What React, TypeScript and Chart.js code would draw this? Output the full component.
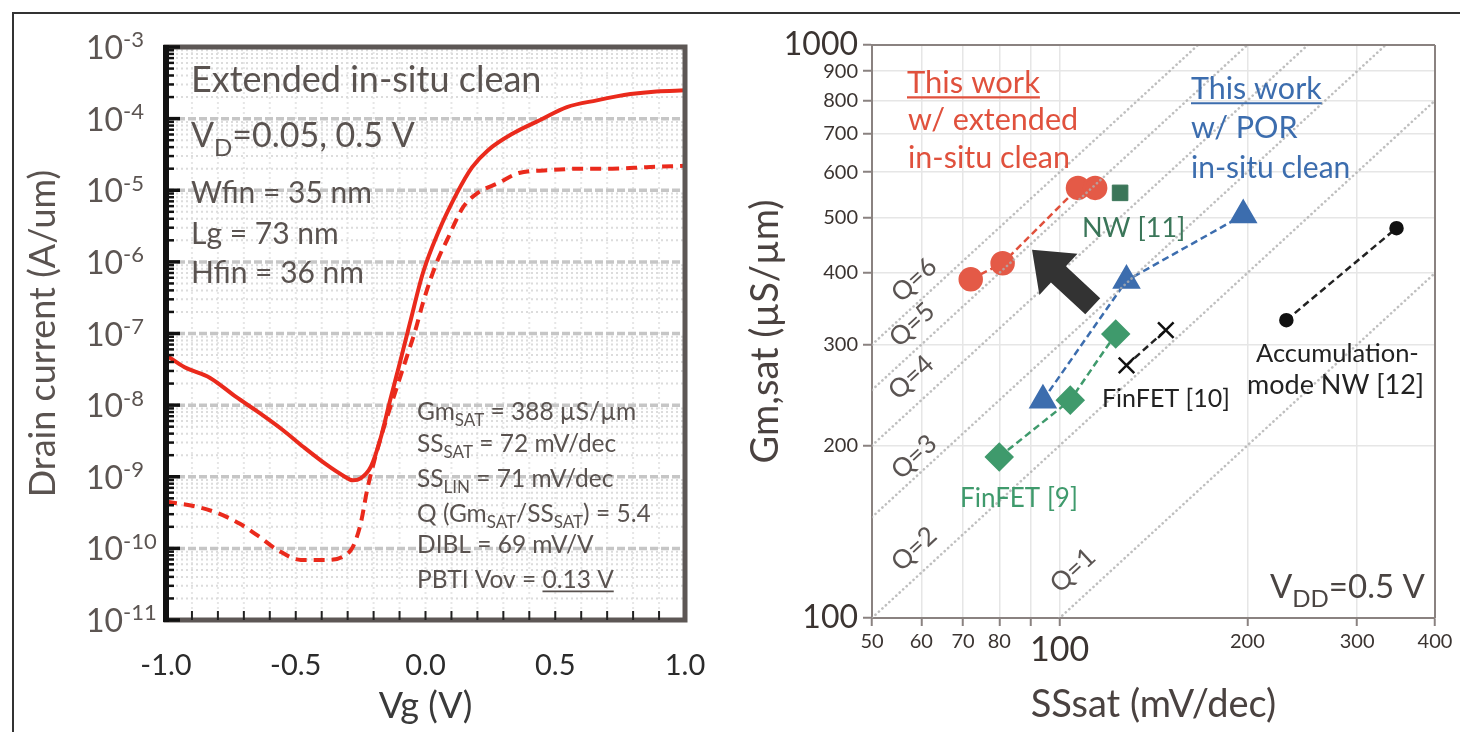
import React, { useEffect, useRef } from "react";
import { Chart, registerables } from "chart.js";
Chart.register(...registerables);

const FONT = "Lato, 'Noto Sans', sans-serif";

// ---------- Left chart data (Id–Vg) ----------
const vgSat = [-1.0, -0.93, -0.83, -0.73, -0.64, -0.55, -0.47, -0.38, -0.32, -0.28, -0.25, -0.21, -0.175, -0.137, -0.098, -0.06, -0.01, 0.048, 0.121, 0.18, 0.24, 0.34, 0.44, 0.545, 0.66, 0.79, 0.89, 1.0];
const idSat = [5.0e-8, 3.4e-8, 2.4e-8, 1.3e-8, 7.8e-9, 4.5e-9, 2.6e-9, 1.46e-9, 1.05e-9, 8.9e-10, 9.5e-10, 1.4e-9, 3.26e-9, 1.14e-8, 4.0e-8, 1.4e-7, 7.0e-7, 2.53e-6, 9.1e-6, 2.1e-5, 3.6e-5, 6.3e-5, 9.5e-5, 1.45e-4, 1.8e-4, 2.2e-4, 2.4e-4, 2.48e-4];
const vgLin = [-1.0, -0.88, -0.8, -0.715, -0.64, -0.57, -0.48, -0.38, -0.32, -0.28, -0.25, -0.225, -0.19, -0.148, -0.11, -0.075, -0.04, -0.01, 0.021, 0.052, 0.083, 0.145, 0.2, 0.28, 0.36, 0.47, 0.6, 0.72, 0.85, 1.0];
const idLin = [4.5e-10, 3.8e-10, 3.1e-10, 2.2e-10, 1.45e-10, 9.5e-11, 6.9e-11, 6.9e-11, 7.6e-11, 1.05e-10, 2.2e-10, 6.5e-10, 2.1e-9, 6.8e-9, 1.79e-8, 4.4e-8, 1.08e-7, 2.67e-7, 5.96e-7, 1.17e-6, 2.02e-6, 5.8e-6, 9.1e-6, 1.26e-5, 1.74e-5, 1.9e-5, 2.0e-5, 2.0e-5, 2.1e-5, 2.2e-5];
const leftYExponents = [-11, -10, -9, -8, -7, -6, -5, -4, -3];
const leftXLabels = [-1.0, -0.5, 0.0, 0.5, 1.0];

// ---------- Right chart data (Gm vs SS) ----------
const redSS = [72, 81, 107, 114];
const redGm = [390, 416, 563, 563];
const blueSS = [94, 128, 197];
const blueGm = [240, 388, 505];
const greenSS = [80, 104, 123];
const greenGm = [191, 240, 313];
const nwSS = [125];
const nwGm = [552];
const fin10SS = [128, 148];
const fin10Gm = [276, 318];
const accSS = [231, 347];
const accGm = [331, 479];
const qValues = [1, 2, 3, 4, 5, 6];
const rightXTicks = [50, 60, 70, 80, 90, 100, 200, 300, 400];
const rightYTicks = [100, 200, 300, 400, 500, 600, 700, 800, 900, 1000];

type Part = { t: string; sub?: boolean; sup?: boolean; u?: boolean };

function drawRich(ctx: CanvasRenderingContext2D, x: number, y: number, parts: Part[], size: number, color: string, subSize?: number) {
  ctx.save();
  ctx.fillStyle = color;
  ctx.strokeStyle = color;
  ctx.textBaseline = "alphabetic";
  ctx.textAlign = "left";
  let cx = x;
  for (const p of parts) {
    const s = p.sub || p.sup ? subSize || Math.round(size * 0.72) : size;
    ctx.font = `${s}px ${FONT}`;
    const dy = p.sub ? size * 0.26 : p.sup ? -size * 0.36 : 0;
    ctx.fillText(p.t, cx, y + dy);
    const w = ctx.measureText(p.t).width;
    if (p.u) {
      ctx.lineWidth = Math.max(1.5, size / 14);
      ctx.beginPath();
      ctx.moveTo(cx, y + size * 0.14);
      ctx.lineTo(cx + w, y + size * 0.14);
      ctx.stroke();
    }
    cx += w;
  }
  ctx.restore();
}

function line(ctx: CanvasRenderingContext2D, x1: number, y1: number, x2: number, y2: number) {
  ctx.beginPath();
  ctx.moveTo(x1, y1);
  ctx.lineTo(x2, y2);
  ctx.stroke();
}

const LEFT_TEXT = "#5a5350";

const leftDecor = {
  id: "leftDecor",
  beforeDatasetsDraw(chart: any) {
    const { ctx, chartArea: a, scales } = chart;
    const x = scales.x, y = scales.y;
    ctx.save();
    ctx.beginPath();
    ctx.rect(a.left, a.top, a.right - a.left, a.bottom - a.top);
    ctx.clip();
    ctx.strokeStyle = "#e6e6e6";
    ctx.lineWidth = 2;
    ctx.setLineDash([2, 3]);
    for (let i = -9; i <= 9; i++) {
      const px = x.getPixelForValue(i / 10);
      line(ctx, px, a.top, px, a.bottom);
    }
    ctx.strokeStyle = "#dcdcdc";
    for (const e of leftYExponents) {
      for (let m = 2; m <= 9; m++) {
        const v = m * Math.pow(10, e);
        if (v >= 1e-3) continue;
        const py = y.getPixelForValue(v);
        line(ctx, a.left, py, a.right, py);
      }
    }
    ctx.strokeStyle = "#c6c6c6";
    ctx.lineWidth = 3.5;
    ctx.setLineDash([8, 3]);
    for (const e of leftYExponents) {
      const py = y.getPixelForValue(Math.pow(10, e));
      line(ctx, a.left, py, a.right, py);
    }
    ctx.restore();
  },
  afterDatasetsDraw(chart: any) {
    const { ctx, chartArea: a, scales } = chart;
    const x = scales.x, y = scales.y;
    ctx.save();
    ctx.strokeStyle = "#5d5755";
    ctx.lineWidth = 5;
    ctx.strokeRect(a.left, a.top, a.right - a.left, a.bottom - a.top);
    ctx.strokeStyle = "#111";
    ctx.lineWidth = 6;
    line(ctx, a.left, a.top - 2, a.left, a.bottom + 2);
    for (const e of leftYExponents) {
      for (let m = 1; m <= 9; m++) {
        const v = m * Math.pow(10, e);
        if (v > 1e-3 + 1e-12) continue;
        const py = y.getPixelForValue(v);
        ctx.lineWidth = m === 1 ? 3.5 : 2.5;
        line(ctx, a.left, py, a.left + (m === 1 ? 14 : 8), py);
      }
    }
    ctx.strokeStyle = "#222";
    ctx.lineWidth = 2;
    for (let i = -9; i <= 9; i++) {
      const px = x.getPixelForValue(i / 10);
      line(ctx, px, a.bottom, px, a.bottom - 9);
    }
    ctx.restore();

    for (const e of leftYExponents) {
      const py = y.getPixelForValue(Math.pow(10, e));
      drawRich(ctx, 86, py + 12, [{ t: "10" }, { t: "-" + String(-e), sup: true }], 32, "#5c5552", 22);
    }

    drawRich(ctx, 191, 92, [{ t: "Extended in-situ clean" }], 36, LEFT_TEXT);
    drawRich(ctx, 191, 147, [{ t: "V" }, { t: "D", sub: true }, { t: "=0.05, 0.5 V" }], 34, LEFT_TEXT, 24);
    drawRich(ctx, 191, 203, [{ t: "Wfin = 35 nm" }], 30, LEFT_TEXT);
    drawRich(ctx, 191, 244, [{ t: "Lg = 73 nm" }], 30, LEFT_TEXT);
    drawRich(ctx, 191, 283, [{ t: "Hfin = 36 nm" }], 30, LEFT_TEXT);
    const s = 24.5, ss = 17, lx = 417;
    drawRich(ctx, lx, 420, [{ t: "Gm" }, { t: "SAT", sub: true }, { t: " = 388 µS/µm" }], s, LEFT_TEXT, ss);
    drawRich(ctx, lx, 452, [{ t: "SS" }, { t: "SAT", sub: true }, { t: " = 72 mV/dec" }], s, LEFT_TEXT, ss);
    drawRich(ctx, lx, 487, [{ t: "SS" }, { t: "LIN", sub: true }, { t: " = 71 mV/dec" }], s, LEFT_TEXT, ss);
    drawRich(ctx, lx, 522, [{ t: "Q (Gm" }, { t: "SAT", sub: true }, { t: "/SS" }, { t: "SAT", sub: true }, { t: ") = 5.4" }], s, LEFT_TEXT, ss);
    drawRich(ctx, lx, 553, [{ t: "DIBL = 69 mV/V" }], s, LEFT_TEXT, ss);
    drawRich(ctx, lx, 588, [{ t: "PBTI Vov = " }, { t: "0.13 V", u: true }], s, LEFT_TEXT, ss);
  },
};

function LeftChart() {
  const ref = useRef<HTMLCanvasElement>(null);
  useEffect(() => {
    const chart = new Chart(ref.current!, {
      type: "line",
      data: {
        datasets: [
          {
            label: "VD=0.5V",
            data: vgSat.map((v, i) => ({ x: v, y: idSat[i] })),
            borderColor: "#ea2a1c",
            borderWidth: 4,
            pointRadius: 0,
            cubicInterpolationMode: "monotone",
          },
          {
            label: "VD=0.05V",
            data: vgLin.map((v, i) => ({ x: v, y: idLin[i] })),
            borderColor: "#ea2a1c",
            borderWidth: 4,
            borderDash: [11, 7],
            pointRadius: 0,
            cubicInterpolationMode: "monotone",
          },
        ],
      },
      options: {
        responsive: false,
        animation: false,
        layout: { padding: { left: 0, top: 47, right: 45, bottom: 0 } },
        plugins: { legend: { display: false }, tooltip: { enabled: false } },
        scales: {
          x: {
            type: "linear",
            min: -1,
            max: 1,
            afterBuildTicks: (s: any) => {
              s.ticks = leftXLabels.map((v) => ({ value: v }));
            },
            afterFit: (s: any) => {
              s.height = 112;
              s.paddingLeft = 0;
              s.paddingRight = 0;
            },
            grid: { display: false, drawTicks: false },
            border: { display: false },
            ticks: {
              padding: 28,
              color: "#2b2b2b",
              font: { family: FONT, size: 29 },
              callback: (v: any) => Number(v).toFixed(1),
            },
            title: {
              display: true,
              text: "Vg (V)",
              color: "#3a3a3a",
              font: { family: FONT, size: 36 },
              padding: { top: 0, bottom: 4 },
            },
          },
          y: {
            type: "logarithmic",
            min: 1e-11,
            max: 1e-3,
            afterFit: (s: any) => {
              s.width = 166;
              s.paddingTop = 0;
              s.paddingBottom = 0;
            },
            grid: { display: false, drawTicks: false },
            border: { display: false },
            ticks: { display: false },
            title: {
              display: true,
              text: "Drain current (A/um)",
              color: "#5a5350",
              font: { family: FONT, size: 36 },
              padding: { top: 22, bottom: 0 },
            },
          },
        },
      },
      plugins: [leftDecor],
    } as any);
    return () => chart.destroy();
  }, []);
  return <canvas ref={ref} width={730} height={732} style={{ position: "absolute", left: 0, top: 0, width: 730, height: 732 }} />;
}

// arrow in data coordinates (SS, Gm)
const arrowTail = { x: 113, y: 350 };
const arrowTip = { x: 90.3, y: 439 };

const qLabelPos = [
  { q: 1, x: 105, y: 121 },
  { q: 2, x: 58.4, y: 132 },
  { q: 3, x: 58.4, y: 191 },
  { q: 4, x: 57.8, y: 263 },
  { q: 5, x: 58.0, y: 325 },
  { q: 6, x: 58.4, y: 389 },
];

const RED = "#e0513d";
const BLUE = "#3c6dae";
const GREEN = "#3f9a6c";
const DKGREEN = "#3b7659";

const rightDecor = {
  id: "rightDecor",
  afterDatasetsDraw(chart: any) {
    const { ctx, chartArea: a, scales } = chart;
    const x = scales.x, y = scales.y;
    ctx.save();
    ctx.strokeStyle = "#8a8280";
    ctx.lineWidth = 2;
    line(ctx, a.left, a.top, a.right, a.top);
    line(ctx, a.right, a.top, a.right, a.bottom);

    const tx = x.getPixelForValue(arrowTip.x), ty = y.getPixelForValue(arrowTip.y);
    const bx = x.getPixelForValue(arrowTail.x), by = y.getPixelForValue(arrowTail.y);
    const dx = tx - bx, dy = ty - by;
    const len = Math.hypot(dx, dy);
    const ux = dx / len, uy = dy / len;
    const nx = -uy, ny = ux;
    const headLen = 36, headHalf = 28, shaftHalf = 11;
    const hx = tx - ux * headLen, hy = ty - uy * headLen;
    ctx.fillStyle = "#333";
    ctx.beginPath();
    ctx.moveTo(tx, ty);
    ctx.lineTo(hx + nx * headHalf, hy + ny * headHalf);
    ctx.lineTo(hx + nx * shaftHalf, hy + ny * shaftHalf);
    ctx.lineTo(bx + nx * shaftHalf, by + ny * shaftHalf);
    ctx.lineTo(bx - nx * shaftHalf, by - ny * shaftHalf);
    ctx.lineTo(hx - nx * shaftHalf, hy - ny * shaftHalf);
    ctx.lineTo(hx - nx * headHalf, hy - ny * headHalf);
    ctx.closePath();
    ctx.fill();

    ctx.fillStyle = "#5a5452";
    ctx.font = `26px ${FONT}`;
    ctx.textAlign = "center";
    ctx.textBaseline = "middle";
    for (const p of qLabelPos) {
      ctx.save();
      ctx.translate(x.getPixelForValue(p.x), y.getPixelForValue(p.y));
      ctx.rotate((-43 * Math.PI) / 180);
      ctx.fillText("Q=" + p.q, 0, 0);
      ctx.restore();
    }
    ctx.restore();

    drawRich(ctx, 177, 93, [{ t: "This work", u: true }], 31, RED);
    drawRich(ctx, 178, 130, [{ t: "w/ extended" }], 30.5, RED);
    drawRich(ctx, 178, 168, [{ t: "in-situ clean" }], 30.5, RED);
    drawRich(ctx, 461, 99, [{ t: "This work", u: true }], 30.5, BLUE);
    drawRich(ctx, 461, 138, [{ t: "w/ POR" }], 30.5, BLUE);
    drawRich(ctx, 461, 178, [{ t: "in-situ clean" }], 30, BLUE);
    drawRich(ctx, 352, 237, [{ t: "NW [11]" }], 27, DKGREEN);
    drawRich(ctx, 372, 407, [{ t: "FinFET [10]" }], 25, "#222");
    drawRich(ctx, 230, 507, [{ t: "FinFET [9]" }], 26, GREEN);
    drawRich(ctx, 526, 362, [{ t: "Accumulation-" }], 25.5, "#222");
    drawRich(ctx, 517, 394, [{ t: "mode NW [12]" }], 27, "#222");
    drawRich(ctx, 540, 598, [{ t: "V" }, { t: "DD", sub: true }, { t: "=0.5 V" }], 33, "#4a4442", 24);
  },
};

const pts = (xs: number[], ys: number[]) => xs.map((v, i) => ({ x: v, y: ys[i] }));

function RightChart() {
  const ref = useRef<HTMLCanvasElement>(null);
  useEffect(() => {
    const qSets = qValues.map((q) => ({
      label: "Q=" + q,
      data: [
        { x: 50, y: 50 * q },
        { x: 400, y: 400 * q },
      ],
      borderColor: "rgba(175,175,175,0.8)",
      borderWidth: 2.6,
      borderDash: [0.1, 4.6],
      borderCapStyle: "round",
      pointRadius: 0,
      showLine: true,
    }));
    const chart = new Chart(ref.current!, {
      type: "line",
      data: {
        datasets: [
          ...qSets,
          {
            label: "This work extended",
            data: pts(redSS, redGm),
            borderColor: RED,
            borderWidth: 2.5,
            borderDash: [7, 4],
            pointRadius: 11,
            pointStyle: "circle",
            pointBackgroundColor: "#e45a47",
            pointBorderColor: "#e45a47",
          },
          {
            label: "NW [11]",
            data: pts(nwSS, nwGm),
            showLine: false,
            pointRadius: 11,
            pointStyle: "rect",
            pointBackgroundColor: DKGREEN,
            pointBorderColor: DKGREEN,
          },
          {
            label: "This work POR",
            data: pts(blueSS, blueGm),
            borderColor: BLUE,
            borderWidth: 2.5,
            borderDash: [7, 4],
            pointRadius: 14,
            pointStyle: "triangle",
            pointBackgroundColor: BLUE,
            pointBorderColor: BLUE,
          },
          {
            label: "FinFET [9]",
            data: pts(greenSS, greenGm),
            borderColor: GREEN,
            borderWidth: 2.5,
            borderDash: [7, 4],
            pointRadius: 13,
            pointStyle: "rectRot",
            pointBackgroundColor: GREEN,
            pointBorderColor: GREEN,
          },
          {
            label: "FinFET [10]",
            data: pts(fin10SS, fin10Gm),
            borderColor: "#222",
            borderWidth: 2.5,
            borderDash: [7, 4],
            pointRadius: 11,
            pointStyle: "crossRot",
            pointBorderWidth: 2.5,
            pointBorderColor: "#111",
          },
          {
            label: "Accumulation-mode NW [12]",
            data: pts(accSS, accGm),
            borderColor: "#222",
            borderWidth: 2.5,
            borderDash: [7, 4],
            pointRadius: 6,
            pointStyle: "circle",
            pointBackgroundColor: "#111",
            pointBorderColor: "#111",
          },
        ],
      },
      options: {
        responsive: false,
        animation: false,
        layout: { padding: { left: 0, top: 45, right: 25, bottom: 0 } },
        plugins: { legend: { display: false }, tooltip: { enabled: false } },
        scales: {
          x: {
            type: "logarithmic",
            min: 50,
            max: 400,
            afterBuildTicks: (s: any) => {
              s.ticks = rightXTicks.map((v) => ({ value: v }));
            },
            afterFit: (s: any) => {
              s.height = 114;
              s.paddingLeft = 0;
              s.paddingRight = 0;
            },
            ticks: {
              autoSkip: false,
              maxRotation: 0,
              padding: 4,
              color: "#3b3431",
              font: (c: any) => ({ family: FONT, size: c.tick && c.tick.value === 100 ? 34 : 20 }),
              callback: (v: any) => (Number(v) === 90 ? "" : String(v)),
            },
            grid: {
              color: (c: any) => (c.tick && c.tick.value > 50 && c.tick.value < 400 ? "#e6e6e6" : "rgba(0,0,0,0)"),
              lineWidth: 1.5,
              tickColor: "#8a8280",
              tickWidth: 2,
              tickLength: 8,
            },
            border: { color: "#8a8280", width: 2 },
            title: {
              display: true,
              text: "SSsat (mV/dec)",
              color: "#4a4240",
              font: { family: FONT, size: 38 },
              padding: { top: 0, bottom: 4 },
            },
          },
          y: {
            type: "logarithmic",
            min: 100,
            max: 1000,
            afterBuildTicks: (s: any) => {
              s.ticks = rightYTicks.map((v) => ({ value: v }));
            },
            afterFit: (s: any) => {
              s.width = 142;
              s.paddingTop = 0;
              s.paddingBottom = 0;
            },
            ticks: {
              autoSkip: false,
              padding: 5,
              color: "#3b3431",
              font: (c: any) => ({ family: FONT, size: c.tick && (c.tick.value === 100 || c.tick.value === 1000) ? 32 : 20 }),
              callback: (v: any) => String(v),
            },
            grid: {
              color: (c: any) => (c.tick && c.tick.value > 100 && c.tick.value < 1000 ? "#e6e6e6" : "rgba(0,0,0,0)"),
              lineWidth: 1.5,
              tickColor: "#8a8280",
              tickWidth: 2,
              tickLength: 9,
            },
            border: { color: "#8a8280", width: 2 },
            title: {
              display: true,
              text: "Gm,sat (µS/µm)",
              color: "#4a4240",
              font: { family: FONT, size: 38 },
              padding: { top: 13, bottom: 0 },
            },
          },
        },
      },
      plugins: [rightDecor],
    } as any);
    return () => chart.destroy();
  }, []);
  return <canvas ref={ref} width={730} height={732} style={{ position: "absolute", left: 730, top: 0, width: 730, height: 732 }} />;
}

export default function App() {
  return (
    <div style={{ position: "absolute", left: 0, top: 0, width: 1460, height: 732, background: "#fff", overflow: "hidden" }}>
      <div
        style={{
          position: "absolute",
          left: 12,
          top: 12,
          width: 1460,
          height: 740,
          borderTop: "2px solid #333",
          borderLeft: "2px solid #333",
        }}
      />
      <LeftChart />
      <RightChart />
    </div>
  );
}
